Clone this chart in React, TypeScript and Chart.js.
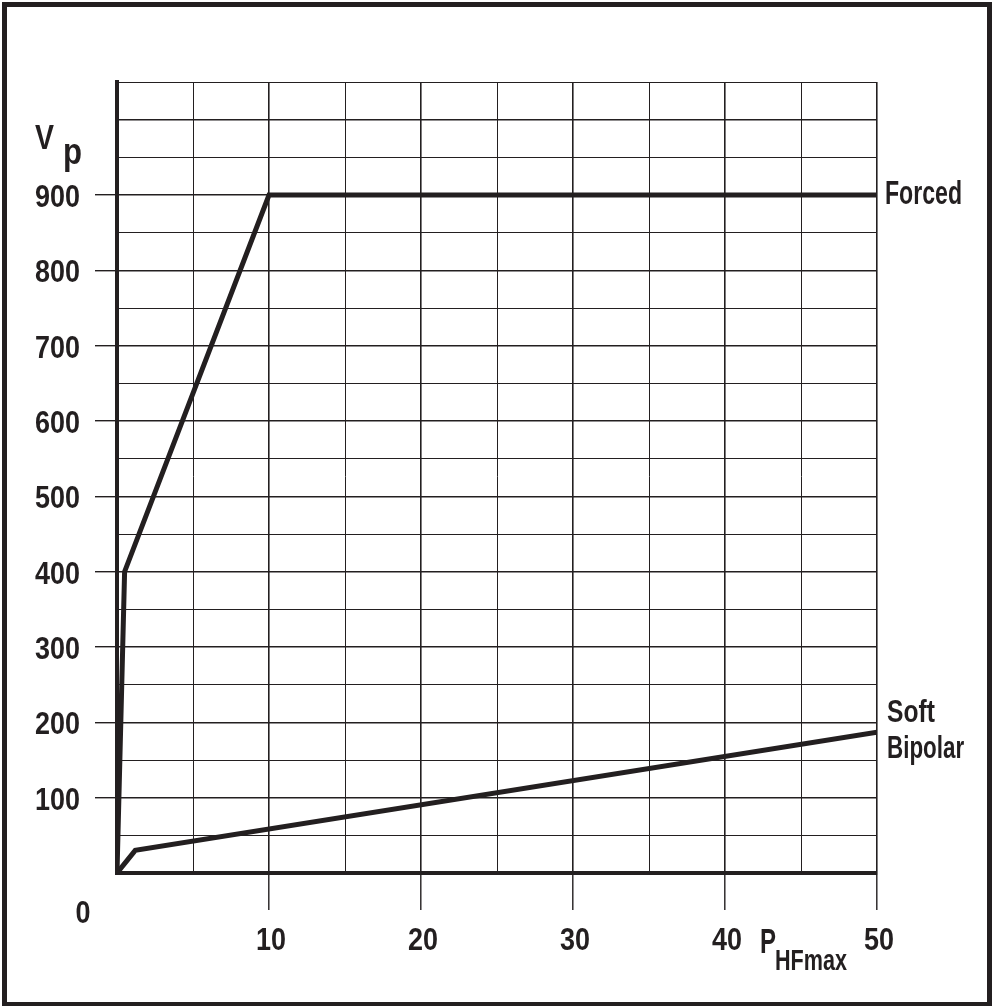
import React, { useEffect, useRef } from "react";
import { Chart, registerables } from "chart.js";

Chart.register(...registerables);

// ---- data ----
const forcedX = [0, 0.5, 10, 50];
const forcedY = [0, 400, 900, 900];
const softX = [0, 1.2, 50];
const softY = [0, 30, 187];
const xTickLabels = [10, 20, 30, 40, 50];
const yTickLabels = [100, 200, 300, 400, 500, 600, 700, 800, 900];
const seriesNames = ["Forced", "Soft Bipolar"];

const INK = "#231f20";
const FONT = "'Liberation Sans', Arial, sans-serif";
const CLEAR = "rgba(0,0,0,0)";

const W = 992;
const H = 1006;

// draw text horizontally compressed (condensed look)
function drawScaled(
  ctx: CanvasRenderingContext2D,
  text: string,
  x: number,
  baseline: number,
  size: number,
  opts: { width?: number; scale?: number; align?: "left" | "right" | "center" }
) {
  ctx.save();
  ctx.font = `bold ${size}px ${FONT}`;
  ctx.textBaseline = "alphabetic";
  ctx.textAlign = "left";
  const m = ctx.measureText(text).width;
  const s = opts.width ? opts.width / m : opts.scale || 1;
  const w = m * s;
  let left = x;
  if (opts.align === "right") left = x - w;
  else if (opts.align === "center") left = x - w / 2;
  ctx.translate(left, baseline);
  ctx.scale(s, 1);
  ctx.fillStyle = INK;
  ctx.fillText(text, 0, 0);
  ctx.restore();
}

const annotations = {
  id: "annotations",
  beforeDraw(chart: any) {
    const ctx = chart.ctx;
    ctx.save();
    ctx.fillStyle = "#ffffff";
    ctx.fillRect(0, 0, chart.width, chart.height);
    ctx.restore();
  },
  afterDraw(chart: any) {
    const ctx = chart.ctx as CanvasRenderingContext2D;
    const xs = chart.scales.x;
    const ys = chart.scales.y;
    ctx.save();
    // frame
    ctx.strokeStyle = INK;
    ctx.lineWidth = 5;
    ctx.strokeRect(4.5, 4.5, chart.width - 7, chart.height - 6);

    const DIG = 0.87;
    // y tick labels
    const yRight = ys.right - 37;
    for (const v of yTickLabels) {
      drawScaled(ctx, String(v), yRight, ys.getPixelForValue(v) + 12, 31, { scale: DIG, align: "right" });
    }
    // x tick labels
    const xBase = xs.getPixelForValue(0);
    const y0 = ys.getPixelForValue(0);
    for (const v of xTickLabels) {
      drawScaled(ctx, String(v), xs.getPixelForValue(v) + 2, y0 + 77, 31, { scale: DIG, align: "center" });
    }
    // 0 label
    drawScaled(ctx, "0", xBase - 34, y0 + 50, 31, { scale: DIG, align: "center" });

    // series labels
    const xr = xs.getPixelForValue(50);
    const yF = ys.getPixelForValue(forcedY[forcedY.length - 1]);
    drawScaled(ctx, seriesNames[0], xr + 8, yF + 9, 34, { width: 77 });
    const words = seriesNames[1].split(" ");
    const ySoft = ys.getPixelForValue(softY[softY.length - 1]);
    drawScaled(ctx, words[0], xr + 10, ySoft - 10, 32, { scale: 0.77 });
    drawScaled(ctx, words[1], xr + 10, ySoft + 26, 32, { scale: 0.7 });

    // axis titles
    const y900 = ys.getPixelForValue(900);
    drawScaled(ctx, "V", 35, y900 - 46, 35, { width: 19 });
    drawScaled(ctx, "p", 63, y900 - 31, 36, { width: 19 });
    drawScaled(ctx, "P", 760, y0 + 80, 35, { width: 16 });
    drawScaled(ctx, "HFmax", 775, y0 + 97, 30, { width: 72 });
    ctx.restore();
  },
};

export default function App() {
  const ref = useRef<HTMLCanvasElement | null>(null);

  useEffect(() => {
    if (!ref.current) return;
    const chart = new Chart(ref.current, {
      type: "scatter",
      data: {
        datasets: [
          {
            label: seriesNames[0],
            data: forcedX.map((x, i) => ({ x, y: forcedY[i] })),
            showLine: true,
            borderColor: INK,
            borderWidth: 5,
            pointRadius: 0,
            borderJoinStyle: "miter",
            borderCapStyle: "butt",
          },
          {
            label: seriesNames[1],
            data: softX.map((x, i) => ({ x, y: softY[i] })),
            showLine: true,
            borderColor: INK,
            borderWidth: 5,
            pointRadius: 0,
            borderJoinStyle: "miter",
            borderCapStyle: "butt",
          },
        ],
      },
      options: {
        animation: false,
        responsive: false,
        devicePixelRatio: 1,
        layout: { padding: { left: 0, right: W - 877, top: 82, bottom: 0 } },
        plugins: { legend: { display: false }, tooltip: { enabled: false } },
        scales: {
          x: {
            type: "linear",
            min: 0,
            max: 50,
            afterFit: (s: any) => {
              s.height = H - 873;
            },
            ticks: {
              stepSize: 5,
              autoSkip: false,
              maxRotation: 0,
              padding: 12,
              color: CLEAR,
              font: { family: FONT, size: 30 },
              callback: (v: any) => (xTickLabels.includes(Number(v)) ? String(v) : ""),
            },
            grid: {
              color: INK,
              lineWidth: (c: any) => (c.tick && c.tick.value % 10 === 0 ? 1.6 : 1),
              tickLength: 37,
              tickColor: (c: any) =>
                c.tick && xTickLabels.includes(c.tick.value) ? INK : CLEAR,
              tickWidth: 1.4,
            },
            border: { display: true, color: INK, width: 4 },
          },
          y: {
            type: "linear",
            min: 0,
            max: 1050,
            afterFit: (s: any) => {
              s.width = 117;
            },
            ticks: {
              stepSize: 50,
              autoSkip: false,
              padding: 15,
              color: CLEAR,
              font: { family: FONT, size: 30 },
              callback: (v: any) => (yTickLabels.includes(Number(v)) ? String(v) : ""),
            },
            grid: {
              color: INK,
              lineWidth: (c: any) => (c.tick && c.tick.value % 100 === 0 ? 1.4 : 1),
              tickLength: 22,
              tickColor: (c: any) =>
                c.tick && yTickLabels.includes(c.tick.value) ? INK : CLEAR,
              tickWidth: 1.4,
            },
            border: { display: true, color: INK, width: 4 },
          },
        },
      },
      plugins: [annotations],
    } as any);
    return () => chart.destroy();
  }, []);

  return (
    <div style={{ position: "fixed", left: 0, top: 0, width: W, height: H, background: "#fff" }}>
      <canvas ref={ref} width={W} height={H} style={{ width: W, height: H, display: "block" }} />
    </div>
  );
}
